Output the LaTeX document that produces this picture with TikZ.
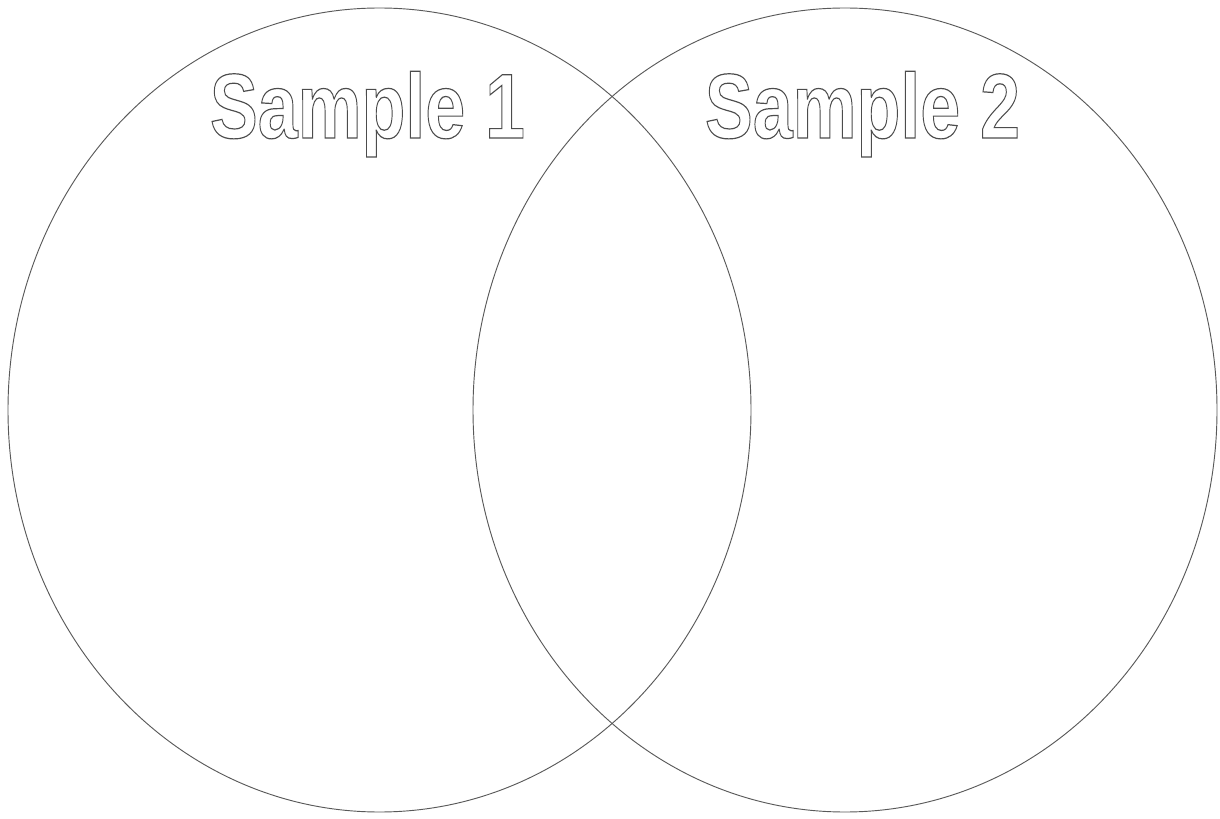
\documentclass[tikz,border=0pt]{standalone}
\usepackage{fontspec}
\setmainfont{Liberation Sans}
\usepackage{graphicx}
\usepackage{tikz}
\tikzset{ringstyle/.style={draw=black!65,line width=0.7pt},
         titlestyle/.style={anchor=base,inner sep=0pt,text=black!70,font=\bfseries\fontsize{69}{69}\selectfont}}
\newcommand{\hollow}[1]{\special{pdf:literal direct 1 Tr 0.9 w}\scalebox{0.78}[1]{#1}\special{pdf:literal direct 0 Tr}}

\begin{document}
\begin{tikzpicture}[x=0.75pt,y=0.75pt]
            \useasboundingbox (0,0) rectangle (1220,818);
            % the two sets
            \draw[ringstyle] (379.5,408) ellipse (371.5 and 402);
            \draw[ringstyle] (845,408) ellipse (372 and 402);
            % set titles
            \node[titlestyle] (sampleone) at (367.5,680) {\hollow{Sample 1}};
            \node[titlestyle] (sampletwo) at (862.5,680) {\hollow{Sample 2}};
        \end{tikzpicture}
\end{document}
